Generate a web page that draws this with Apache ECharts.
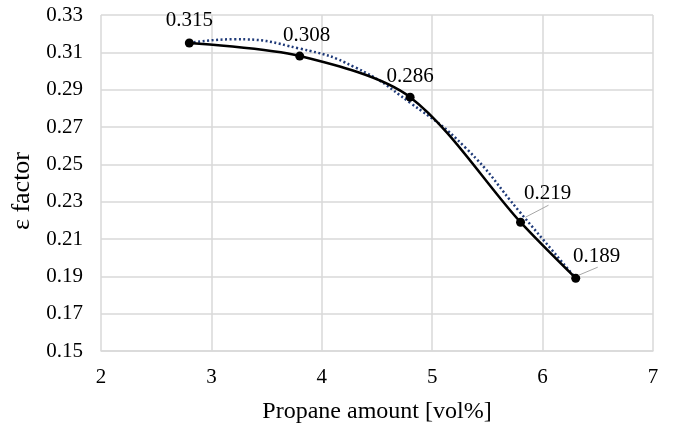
<!DOCTYPE html>
<html style="height: 100%">
    <head>
        <meta charset="utf-8">
    </head>
    <body style="height: 100%; margin: 0">
        <div id="container" style="height: 100%"></div>
        <script type="text/javascript" src="https://cdn.jsdelivr.net/npm/echarts@6/dist/echarts.min.js"></script>
        <script type="text/javascript">
var dom = document.getElementById("container");
var myChart = echarts.init(dom);

// measured points
var propane = [2.8, 3.8, 4.8, 5.8, 6.3];
var epsilon = [0.315, 0.308, 0.286, 0.219, 0.189];

// dotted trend line
var trendX = [2.8, 3.2, 3.8, 4.3, 4.8, 5.3, 5.8, 6.3];
var trendY = [0.315, 0.317, 0.312, 0.302, 0.283, 0.259, 0.224, 0.189];

// label offsets (dx, dy) for each point
var labelShift = [[0, 0], [7, 2], [0, 2], [27, -6], [21, 1]];
// leader lines: [point index, start dx, start dy, end dx, end dy] in px
var leaders = [[3, 5, -5, 28, -17], [4, 3, -3, 22, -11]];

var font = 'Liberation Serif';

var option = {
    animation: false,
    grid: { left: 101, right: 22, top: 15, bottom: 74, outerBoundsMode: 'none' },
    xAxis: {
        type: 'value',
        min: 2, max: 7, interval: 1,
        name: 'Propane amount [vol%]',
        nameLocation: 'middle',
        nameGap: 49,
        nameTextStyle: { fontFamily: font, fontSize: 24, color: '#000' },
        axisLine: { lineStyle: { color: '#d9d9d9', width: 1.5 } },
        axisTick: { show: false },
        axisLabel: { fontFamily: font, fontSize: 21, color: '#000', margin: 16 },
        splitLine: { lineStyle: { color: '#d9d9d9', width: 1.5 } }
    },
    yAxis: {
        type: 'value',
        min: 0.15, max: 0.33, interval: 0.02,
        name: 'ε factor',
        nameLocation: 'middle',
        nameGap: 62,
        nameTextStyle: { fontFamily: font, fontSize: 26, color: '#000', padding: [0, 16, 0, 0] },
        axisLine: { show: false },
        axisTick: { show: false },
        axisLabel: {
            fontFamily: font, fontSize: 21, color: '#000', margin: 18,
            formatter: function (v) { return v.toFixed(2); }
        },
        splitLine: { lineStyle: { color: '#d9d9d9', width: 1.5 } }
    },
    series: [
        {
            type: 'line',
            data: trendX.map(function (x, i) { return [x, trendY[i]]; }),
            smooth: 0.5,
            symbol: 'none',
            lineStyle: { color: '#1f3a78', width: 2.5, type: [2, 2.5] },
            z: 3
        },
        {
            type: 'line',
            data: propane.map(function (x, i) { return [x, epsilon[i]]; }),
            smooth: 0.3,
            symbol: 'circle',
            symbolSize: 9,
            itemStyle: { color: '#000' },
            lineStyle: { color: '#000', width: 2.5 },
            label: {
                show: true,
                position: 'top',
                distance: 8,
                fontFamily: font,
                fontSize: 21,
                color: '#000',
                formatter: function (p) { return p.value[1].toFixed(3); }
            },
            labelLayout: function (params) {
                var s = labelShift[params.dataIndex];
                return { dx: s[0], dy: s[1] };
            },
            z: 4
        }
    ]
};

myChart.setOption(option);

// leader lines for the two shifted labels
var graphics = leaders.map(function (l) {
    var p = myChart.convertToPixel({ gridIndex: 0 }, [propane[l[0]], epsilon[l[0]]]);
    return {
        type: 'line',
        shape: { x1: p[0] + l[1], y1: p[1] + l[2], x2: p[0] + l[3], y2: p[1] + l[4] },
        style: { stroke: '#a6a6a6', lineWidth: 1 },
        z: 5
    };
});
myChart.setOption({ graphic: graphics });
        </script>
    </body>
</html>
